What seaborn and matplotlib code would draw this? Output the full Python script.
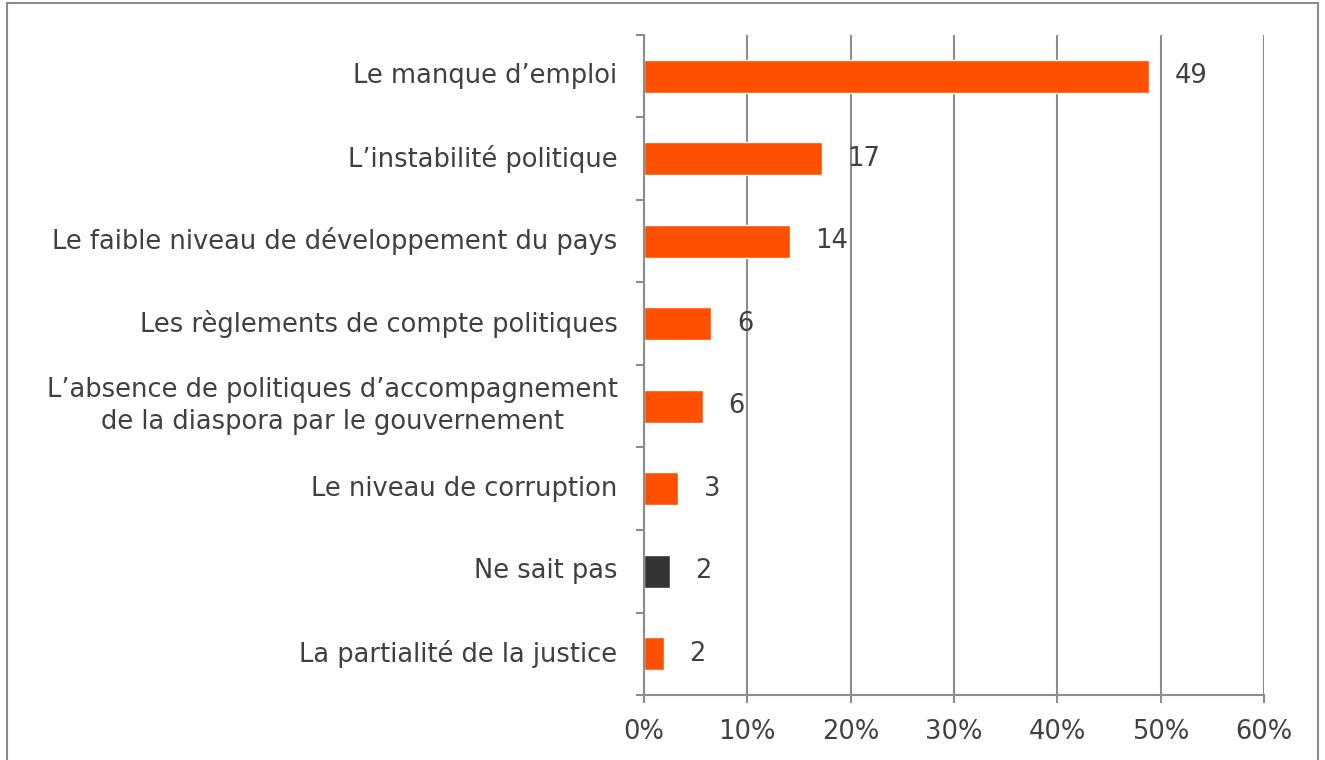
import numpy as np
import pandas as pd
import matplotlib.pyplot as plt
import seaborn as sns
from matplotlib.patches import Rectangle

# Data
categories = [
    "Le manque d\u2019emploi",
    "L\u2019instabilit\u00e9 politique",
    "Le faible niveau de d\u00e9veloppement du pays",
    "Les r\u00e8glements de compte politiques",
    "L\u2019absence de politiques d\u2019accompagnement\nde la diaspora par le gouvernement",
    "Le niveau de corruption",
    "Ne sait pas",
    "La partialit\u00e9 de la justice",
]
shares = [0.489, 0.172, 0.141, 0.065, 0.057, 0.033, 0.025, 0.019]
labels = ["49", "17", "14", "6", "6", "3", "2", "2"]
colors = ["#FF5000"] * 6 + ["#333333", "#FF5000"]

df = pd.DataFrame({"cat": categories, "share": shares})

sns.set_style("white")
plt.rcParams["font.family"] = ["DejaVu Sans"]
FS = 18.5
TXT = "#404040"
GRID = "#8c8c8c"

fig = plt.figure(figsize=(13.25, 7.6), dpi=100)
ax = fig.add_axes([0.486, 0.0855, 0.468, 0.8685])

sns.barplot(data=df, y="cat", x="share", hue="cat", palette=colors,
            orient="h", width=0.4, legend=False, ax=ax, saturation=1)

for i, (v, lab) in enumerate(zip(shares, labels)):
    ax.text(v + 0.025, i, lab, va="center", ha="left", fontsize=FS, color=TXT)

ax.set_xlim(0, 0.6)
ax.set_ylim(7.5, -0.5)
ax.set_xticks(np.arange(0, 0.61, 0.1))
ax.set_xticklabels([f"{int(round(t * 100))}%" for t in np.arange(0, 0.61, 0.1)])
ax.set_yticks(np.arange(-0.5, 8, 1), minor=True)
ax.tick_params(axis="y", which="major", left=False, length=0, pad=19,
               labelsize=FS, labelcolor=TXT)
ax.tick_params(axis="y", which="minor", left=True, length=6, width=1.5,
               color=GRID, direction="out")
ax.tick_params(axis="x", bottom=True, length=6, width=1.5, color=GRID,
               direction="out", pad=11, labelsize=FS, labelcolor=TXT)
for lbl in ax.get_yticklabels():
    lbl.set_multialignment("center")
    lbl.set_linespacing(1.3)
    lbl.set_verticalalignment("center")

ax.xaxis.grid(True, color=GRID, linewidth=1.5)
ax.set_axisbelow(True)
for s in ["top", "right"]:
    ax.spines[s].set_visible(False)
for s in ["left", "bottom"]:
    ax.spines[s].set_color(GRID)
    ax.spines[s].set_linewidth(1.5)
ax.set_xlabel("")
ax.set_ylabel("")

# outer frame
fig.patches.append(Rectangle((7 / 1325, -0.05), 1311 / 1325, 1.05 - 3 / 760,
                             transform=fig.transFigure, fill=False,
                             edgecolor=GRID, linewidth=1.5))

plt.savefig("out.png", dpi=100)
plt.close()
